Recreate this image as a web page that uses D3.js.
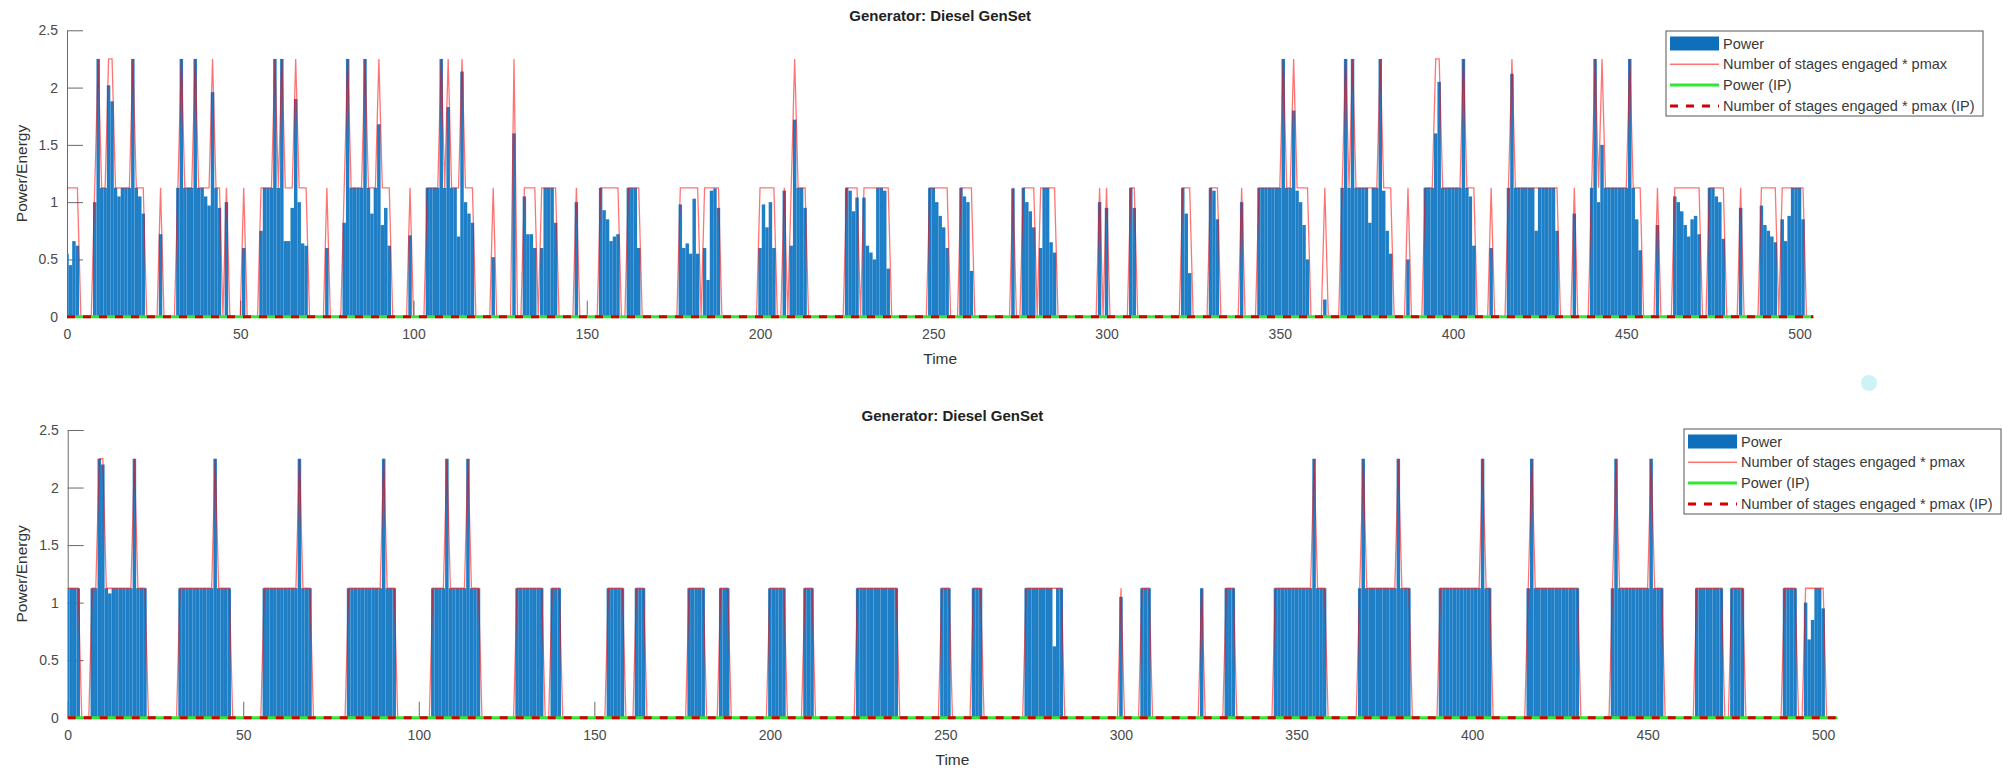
<!DOCTYPE html>
<html><head><meta charset="utf-8">
<script src="https://cdn.jsdelivr.net/npm/d3@7"></script>
<style>
body{margin:0;background:#fff;}
svg text{font-family:"Liberation Sans",Arial,sans-serif;}
</style></head><body>
<svg id="c" width="2003" height="770"></svg>
<script>
// ---------------- data ----------------
const pmax = 1.125;
const P = pmax;
const nSteps = 505;            // time steps 0..504
const xTicks = [0,50,100,150,200,250,300,350,400,450,500];
const yTicks = [0,0.5,1,1.5,2,2.5];
const yTickLabels = ["0","0.5","1","1.5","2","2.5"];
const titleText = "Generator: Diesel GenSet";
const xLabel = "Time";
const yLabel = "Power/Energy";
const legendLabels = ["Power","Number of stages engaged * pmax","Power (IP)","Number of stages engaged * pmax (IP)"];

// top panel: blocks of consecutive time steps (start time, power values, stages engaged)
const topStart = [0,8,27,32,46,51,56,75,80,99,104,123,129,132,137,147,154,162,177,184,200,207,209,225,230,249,258,273,276,281,298,300,307,322,330,339,344,363,368,387,392,411,416,435,440,459,464,474,483,489,495];
const topPower = [
 [0.55,0.45,0.66,0.62],
 [1.0,2.25,P,P,2.02,1.88,P,1.05,P,P,P,2.25,P,1.05,0.9],
 [0.72],
 [P,2.25,P,P,P,2.25,P,P,1.05,0.97,1.96,P,0.95],
 [1.0],
 [0.6],
 [0.75,P,P,P,2.25,P,2.25,0.66,0.66,0.95,1.9,1.0,0.64,0.62],
 [0.6],
 [0.82,2.25,P,P,P,P,2.25,P,0.9,P,1.68,0.8,0.95,0.62],
 [0.71],
 [P,P,P,P,2.25,P,1.83,P,P,0.7,2.14,1.0,0.9,0.82],
 [0.52],
 [1.6],
 [1.05,0.72,0.72,0.6],
 [0.6,P,P,P,0.82],
 [1.0],
 [P,0.93,0.85,0.66,0.7,0.72],
 [P,P,P,0.6],
 [0.98,0.6,0.64,0.55,1.03,0.55],
 [0.6,0.32,1.1,1.12,0.95],
 [0.6,0.98,0.78,1.0,0.6],
 [1.1],
 [0.62,1.72,P,P,0.95],
 [P,1.1,0.92,1.04],
 [1.04,0.62,0.56,0.5,P,P,1.1,0.42],
 [P,P,1.0,0.88,0.78,0.6],
 [P,1.05,1.0,0.4],
 [1.12],
 [P,1.0,0.92,0.78],
 [0.6,P,P,0.65,0.56],
 [1.0],
 [0.95],
 [P,0.95],
 [P,0.9,0.38],
 [P,1.1,0.85],
 [1.0],
 [P,P,P,P,P,P,P,2.25,P,P,1.8,1.1,1.0,0.8,0.5],
 [0.15],
 [P,2.25,P,2.25,P,P,P,P,0.82,P,P,2.25,1.1,0.75,0.55],
 [0.5],
 [P,P,P,1.6,2.05,P,P,P,P,P,P,2.25,P,1.05,0.62],
 [0.6],
 [P,2.12,P,P,P,P,P,P,0.75,P,P,P,P,P,0.75],
 [0.9],
 [P,2.25,1.0,1.5,P,P,P,P,P,P,P,2.25,P,0.85,0.58],
 [0.8],
 [1.05,1.0,0.92,0.8,0.7,0.85,0.88,0.72],
 [P,P,1.05,1.0,0.68],
 [0.95],
 [0.97,0.8,0.75,0.7,0.65],
 [0.85,0.66,0.88,P,P,P,0.85]
];
const topStages = ["1111","121122111112111","1","1211121111211","1","1","11112121112111","1","12111121112111","1","11112121112111","1","2","1111","11111","1","111111","1111","111111","11111","11111","1","12111","1111","11111111","111111","1111","1","1111","11111","1","1","11","111","111","1","111111121121111","1","121211111112111","1","111221111112111","1","121111111111111","1","121211111112111","1","11111111","11111","1","11111","1111111"];

// bottom panel
const botStart = [0,7,32,56,80,104,128,138,154,162,177,186,200,210,225,249,258,273,300,306,323,330,344,368,391,416,440,464,474,489,495];
const botPower = [
 [P,P,P,P],
 [P,P,2.25,2.2,P,1.08,P,P,P,P,P,P,2.25,P,P,P],
 [P,P,P,P,P,P,P,P,P,P,2.25,P,P,P,P],
 [P,P,P,P,P,P,P,P,P,P,2.25,P,P,P],
 [P,P,P,P,P,P,P,P,P,P,2.25,P,P,P],
 [P,P,P,P,2.25,P,P,P,P,P,2.25,P,P,P],
 [P,P,P,P,P,P,P,P],
 [P,P,P],
 [P,P,P,P,P],
 [P,P,P],
 [P,P,P,P,P],
 [P,P,P],
 [P,P,P,P,P],
 [P,P,P],
 [P,P,P,P,P,P,P,P,P,P,P,P],
 [P,P,P],
 [P,P,P],
 [P,P,P,P,P,P,P,P,0.62,P,P],
 [1.05],
 [P,P,P],
 [P],
 [P,P,P],
 [P,P,P,P,P,P,P,P,P,P,P,2.25,P,P,P],
 [P,2.25,P,P,P,P,P,P,P,P,P,2.25,P,P,P],
 [P,P,P,P,P,P,P,P,P,P,P,P,2.25,P,P],
 [P,2.25,P,P,P,P,P,P,P,P,P,P,P,P,P],
 [P,2.25,P,P,P,P,P,P,P,P,P,2.25,P,P,P],
 [P,P,P,P,P,P,P,P],
 [P,P,P,P],
 [P,P,P,P],
 [1.0,0.68,0.85,P,P,0.95]
];
const botStages = ["1111","1122111111112111","111111111121111","11111111112111","11111111112111","11112111112111","11111111","111","11111","111","11111","111","11111","111","111111111111","111","111","11111111111","1","111","1","111","111111111112111","121111111112111","111111111111211","121111111111111","121111111112111","11111111","1111","1111","111111"];

// IP series (flat at zero over the whole horizon)
const ipPower = d3.range(nSteps).map(() => 0);
const ipStages = d3.range(nSteps).map(() => 0);

// ---------------- drawing ----------------
const svg = d3.select("#c");

function expand(starts, powers, stages){
  const power = new Array(nSteps).fill(0), stage = new Array(nSteps).fill(0);
  starts.forEach((s,i)=>{
    powers[i].forEach((v,j)=>{ power[s+j]=v; stage[s+j]=+stages[i][j]; });
  });
  return {power, stage};
}

const panels = [
  {data: expand(topStart, topPower, topStages), x0:67, x1:1813.4, y0:316.7, y1:30.3, legX:1666, legY:31, id:"a"},
  {data: expand(botStart, botPower, botStages), x0:67.7, x1:1837.2, y0:717.7, y1:430, legX:1684, legY:429, id:"b"}
];

const barColor = "#1f7fc6";
const legendBarColor = "#0f6fba";
const barHalf = 0.5;
const stageColor = "rgba(255,0,0,0.55)";
const ipColor = "#33e633";
const ipStageColor = "#d40000";

panels.forEach(p => {
  const x = d3.scaleLinear().domain([0,504]).range([p.x0,p.x1]);
  const y = d3.scaleLinear().domain([0,2.5]).range([p.y0,p.y1]);
  const g = svg.append("g");

  g.append("clipPath").attr("id","clip"+p.id).append("rect")
    .attr("x",p.x0).attr("y",p.y1-5).attr("width",p.x1-p.x0).attr("height",p.y0-p.y1+10);

  // axes (drawn beneath data, as in the original)
  const ax = g.append("g").attr("transform",`translate(0,${p.y0})`)
    .call(d3.axisBottom(x).tickValues(xTicks).tickFormat(d=>String(d)).tickSizeInner(-16).tickSizeOuter(0).tickPadding(12));
  const ay = g.append("g").attr("transform",`translate(${p.x0},0)`)
    .call(d3.axisLeft(y).tickValues(yTicks).tickFormat((d,i)=>yTickLabels[i]).tickSizeInner(-16).tickSizeOuter(0).tickPadding(9));
  [ax,ay].forEach(a=>{
    a.selectAll("path,line").attr("stroke","#6a6a6a").attr("stroke-width",1);
    a.selectAll("text").attr("fill","#4a4a4a").attr("font-size",14).attr("font-family","Liberation Sans, Arial, sans-serif");
  });

  const plot = g.append("g").attr("clip-path",`url(#clip${p.id})`);
  const t = d3.range(nSteps);
  // bars
  plot.selectAll("rect.bar").data(t.filter(i=>p.data.power[i]>0)).join("rect")
    .attr("class","bar")
    .attr("x",i=>x(i-barHalf)).attr("width",i=>x(i+barHalf)-x(i-barHalf))
    .attr("y",i=>y(p.data.power[i])).attr("height",i=>y(0)-y(p.data.power[i]))
    .attr("fill",barColor);
  // stages * pmax
  plot.append("path").datum(t)
    .attr("d",d3.line().x(i=>x(i)).y(i=>y(p.data.stage[i]*pmax)))
    .attr("fill","none").attr("stroke",stageColor).attr("stroke-width",1.3);
  // IP power
  plot.append("path").datum(t)
    .attr("d",d3.line().x(i=>x(i)).y(i=>y(ipPower[i])))
    .attr("fill","none").attr("stroke",ipColor).attr("stroke-width",3);
  // IP stages * pmax
  plot.append("path").datum(t)
    .attr("d",d3.line().x(i=>x(i)).y(i=>y(ipStages[i]*pmax)))
    .attr("fill","none").attr("stroke",ipStageColor).attr("stroke-width",3).attr("stroke-dasharray","8,8");

  // titles and labels
  const cx = (p.x0+p.x1)/2;
  g.append("text").attr("x",cx).attr("y",p.y1-9).attr("text-anchor","middle")
    .attr("font-size",15).attr("font-weight","bold").attr("fill","#222").text(titleText);
  g.append("text").attr("x",cx).attr("y",p.y0+47).attr("text-anchor","middle")
    .attr("font-size",15.5).attr("fill","#333").text(xLabel);
  g.append("text").attr("transform",`translate(27,${(p.y0+p.y1)/2}) rotate(-90)`).attr("text-anchor","middle")
    .attr("font-size",15.5).attr("fill","#333").text(yLabel);

  // legend
  const lg = g.append("g").attr("transform",`translate(${p.legX},${p.legY})`);
  lg.append("rect").attr("width",317).attr("height",85).attr("fill","#fff").attr("stroke","#555").attr("stroke-width",1);
  legendLabels.forEach((lab,i)=>{
    const cy = 12.5 + i*20.8;
    if(i===0){
      lg.append("rect").attr("x",4).attr("y",cy-7).attr("width",49).attr("height",14).attr("fill",legendBarColor);
    } else {
      const ln = lg.append("line").attr("x1",4).attr("x2",53).attr("y1",cy).attr("y2",cy);
      if(i===1) ln.attr("stroke",stageColor).attr("stroke-width",1.6);
      if(i===2) ln.attr("stroke",ipColor).attr("stroke-width",3);
      if(i===3) ln.attr("stroke",ipStageColor).attr("stroke-width",3).attr("stroke-dasharray","8,8");
    }
    lg.append("text").attr("x",57).attr("y",cy).attr("dy","0.35em").attr("font-size",14.5).attr("fill","#3a3a3a").text(lab);
  });
});

// faint artifact present in the original picture
svg.append("circle").attr("cx",1869).attr("cy",383).attr("r",8).attr("fill","#cdf3f7");
</script>
</body></html>
